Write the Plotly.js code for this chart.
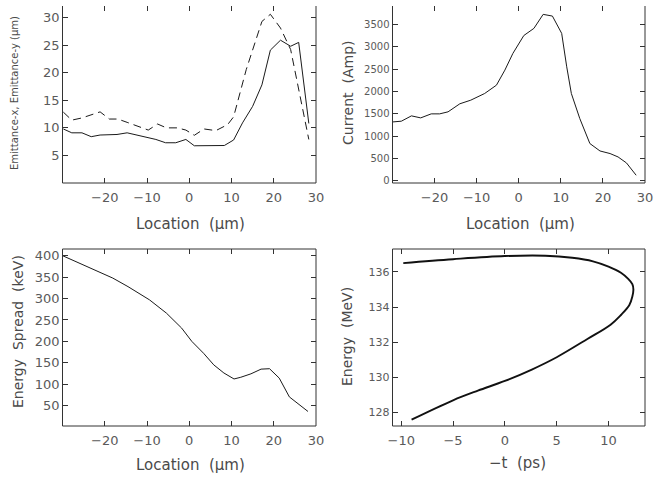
<!DOCTYPE html>
<html>
<head>
<meta charset="utf-8">
<script src="https://cdn.plot.ly/plotly-3.0.1.min.js"></script>
<style>html,body{margin:0;padding:0;background:#fff;}#chart{width:654px;height:477px;}</style>
</head>
<body>
<div id="chart"></div>
<script>
// ---- Data ----
// Panel 1: emittance vs location
const emitXLoc = [-29.8, -27.8, -25.4, -23.2, -21.1, -17.1, -14.7, -11.5, -7.9, -5.6, -3.2, -0.8, 1.2, 8.3, 10.5, 12.6, 15.0, 17.2, 19.2, 21.6, 24.0, 25.9, 28.3];
const emitX    = [9.8, 9.1, 9.1, 8.4, 8.7, 8.8, 9.1, 8.5, 7.9, 7.3, 7.3, 7.9, 6.75, 6.8, 7.8, 10.9, 13.9, 17.8, 24.1, 25.9, 24.8, 25.5, 10.8];
const emitYLoc = [-29.8, -27.8, -25.4, -21.1, -18.9, -16.9, -14.7, -12.1, -9.7, -7.5, -5.4, -2.8, -0.8, 1.2, 3.5, 6.3, 9.1, 10.5, 13.5, 17.2, 19.2, 21.6, 24.0, 28.3];
const emitY    = [12.85, 11.4, 11.8, 12.9, 11.6, 11.6, 11.0, 10.2, 9.6, 10.7, 10.0, 10.0, 9.6, 8.65, 9.8, 9.5, 10.6, 12.0, 20.6, 29.3, 30.6, 28.1, 24.2, 7.9];
// Panel 2: current vs location
const curLoc = [-29.9, -27.9, -25.5, -23.3, -20.8, -18.8, -16.8, -14.0, -11.4, -8.1, -5.3, -3.3, -1.4, 1.2, 3.6, 5.8, 8.0, 10.2, 11.4, 12.5, 14.5, 16.9, 19.3, 21.7, 23.6, 25.6, 27.9];
const current = [1320, 1336, 1455, 1410, 1500, 1500, 1545, 1725, 1806, 1955, 2141, 2477, 2850, 3250, 3410, 3723, 3685, 3298, 2551, 1955, 1396, 837, 671, 613, 537, 403, 128];
// Panel 3: energy spread vs location
const esLoc = [-29.9, -25.3, -21.3, -18.1, -14.5, -12.6, -9.4, -5.4, -1.8, 0.6, 3.4, 5.8, 8.2, 10.6, 12.2, 14.6, 17.0, 19.0, 21.3, 23.7, 28.1];
const eSpread = [400, 379, 361, 348, 328, 317, 297, 266, 231, 200, 172, 145, 126, 112, 116, 124, 135, 136, 114, 70, 36];
// Panel 4: energy vs -t
const negT = [-9.8, -5.0, 0.0, 3.9, 6.5, 8.5, 10.0, 11.2, 11.9, 12.3, 12.4, 12.3, 12.0, 11.2, 10.2, 8.0, 5.0, 2.6, 0.0, -2.6, -5.0, -9.0];
const energy = [136.5, 136.72, 136.9, 136.92, 136.8, 136.6, 136.3, 135.95, 135.6, 135.3, 135.0, 134.6, 134.1, 133.55, 133.0, 132.2, 131.15, 130.45, 129.8, 129.25, 128.7, 127.6];
// Tick labels
const locTicks = [-20, -10, 0, 10, 20, 30];
const emitTicks = [5, 10, 15, 20, 25, 30];
const curTicks = [0, 500, 1000, 1500, 2000, 2500, 3000, 3500];
const esTicks = [50, 100, 150, 200, 250, 300, 350, 400];
const tTicks = [-10, -5, 0, 5, 10];
const eTicks = [128, 130, 132, 134, 136];

// ---- Layout helpers ----
const W = 654, H = 477;
const fx = p => p / W, fy = p => 1 - p / H;
const FONT = 'DejaVu Sans, Liberation Sans, sans-serif';
const AX = '#333';
const TXT = '#5a5a5a';

function xax(l, r, anchor, range, ticks, fs) {
  return {domain: [fx(l), fx(r)], anchor: anchor, range: range, tickmode: 'array', tickvals: ticks,
    ticks: 'inside', ticklen: 5, tickcolor: AX, tickwidth: 1, mirror: 'ticks', showline: false,
    showgrid: false, zeroline: false, tickfont: {family: FONT, size: fs, color: TXT}, ticklabelstandoff: 5};
}
function yax(t, b, anchor, range, ticks, fs) {
  return {domain: [fy(b), fy(t)], anchor: anchor, range: range, tickmode: 'array', tickvals: ticks,
    ticks: 'inside', ticklen: 5, tickcolor: AX, tickwidth: 1, mirror: 'ticks', showline: false,
    showgrid: false, zeroline: false, tickfont: {family: FONT, size: fs, color: TXT}, ticklabelstandoff: 2};
}
function box(xn, yn, top) {
  const s = [];
  const base = {type: 'line', xref: xn + ' domain', yref: yn + ' domain', line: {color: AX, width: 1}};
  s.push(Object.assign({}, base, {x0: 0, x1: 0, y0: 0, y1: 1}));
  s.push(Object.assign({}, base, {x0: 1, x1: 1, y0: 0, y1: 1}));
  s.push(Object.assign({}, base, {x0: 0, x1: 1, y0: 0, y1: 0}));
  if (top) s.push(Object.assign({}, base, {x0: 0, x1: 1, y0: 1, y1: 1}));
  return s;
}
function ann(text, x, y, size, angle) {
  return {text: text, x: fx(x), y: fy(y), xref: 'paper', yref: 'paper', showarrow: false,
    xanchor: 'center', yanchor: 'middle', textangle: angle || 0,
    font: {family: FONT, size: size, color: '#4a4a4a'}};
}

const LINE = '#1a1a1a';
const data = [
  {x: emitXLoc, y: emitX, xaxis: 'x', yaxis: 'y', mode: 'lines', line: {color: LINE, width: 1}},
  {x: emitYLoc, y: emitY, xaxis: 'x', yaxis: 'y', mode: 'lines', line: {color: LINE, width: 1, dash: '8px,5px'}},
  {x: curLoc, y: current, xaxis: 'x2', yaxis: 'y2', mode: 'lines', line: {color: LINE, width: 1}},
  {x: esLoc, y: eSpread, xaxis: 'x3', yaxis: 'y3', mode: 'lines', line: {color: LINE, width: 1}},
  {x: negT, y: energy, xaxis: 'x4', yaxis: 'y4', mode: 'lines', line: {color: '#111', width: 1.9, shape: 'spline', smoothing: 1}}
];

const layout = {
  width: W, height: H, margin: {l: 0, r: 0, t: 0, b: 0}, showlegend: false,
  paper_bgcolor: '#fff', plot_bgcolor: '#fff',
  xaxis:  xax(62.5, 316, 'y', [-30, 30], locTicks, 13),
  yaxis:  yax(6, 183, 'x', [0, 32.1], emitTicks, 13),
  xaxis2: xax(392.5, 645, 'y2', [-30, 30], locTicks, 13),
  yaxis2: yax(6, 183, 'x2', [-45, 3910], curTicks, 10),
  xaxis3: xax(62.5, 316, 'y3', [-30, 30], locTicks, 13),
  yaxis3: yax(249, 426, 'x3', [2, 416], esTicks, 13),
  xaxis4: xax(392.5, 645, 'y4', [-10.84, 13.52], tTicks, 13),
  yaxis4: yax(249, 426, 'x4', [127.24, 137.3], eTicks, 11),
  shapes: [].concat(box('x', 'y', false), box('x2', 'y2', false), box('x3', 'y3', true), box('x4', 'y4', true)),
  annotations: [
    ann('Location\u00a0\u00a0(μm)', 190, 224, 15),
    ann('Location\u00a0\u00a0(μm)', 520, 224, 15),
    ann('Location\u00a0\u00a0(μm)', 190, 465, 15),
    ann('−t\u00a0\u00a0(ps)', 517, 463, 15),
    ann('Emittance-x, Emittance-y (μm)', 15, 93, 10, -90),
    ann('Current\u00a0\u00a0(Amp)', 348, 93, 14, -90),
    ann('Energy\u00a0\u00a0Spread\u00a0\u00a0(keV)', 18, 332, 14, -90),
    ann('Energy\u00a0\u00a0(MeV)', 347, 337, 14, -90)
  ]
};

Plotly.newPlot('chart', data, layout, {staticPlot: true, displayModeBar: false});
</script>
</body>
</html>
